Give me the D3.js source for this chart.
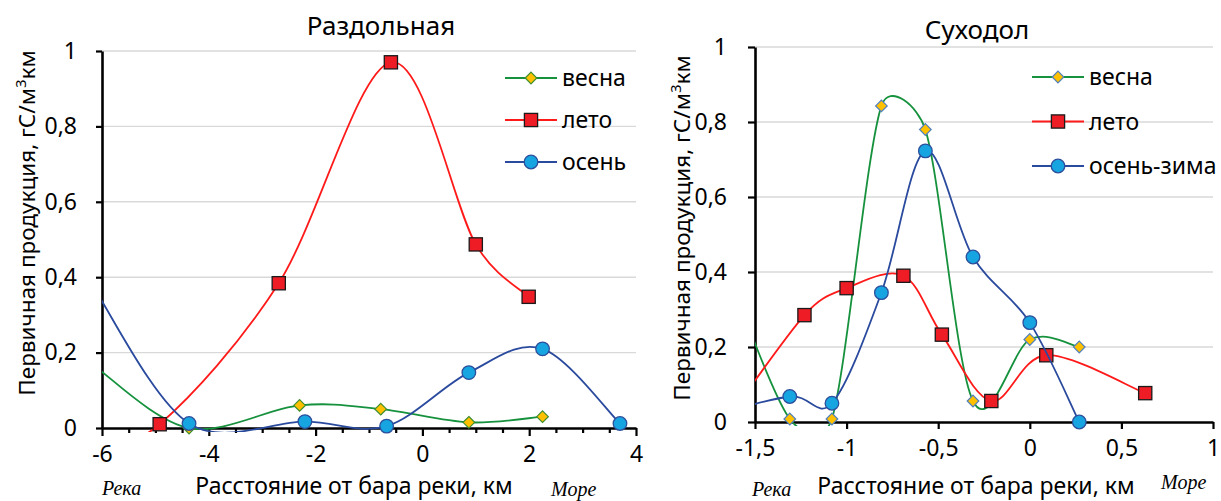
<!DOCTYPE html>
<html>
<head>
<meta charset="utf-8">
<script src="https://cdn.jsdelivr.net/npm/d3@7"></script>
<style>
  body { margin: 0; background: #fff; }
  svg text { font-family: "Noto Sans", sans-serif; fill: #000; }
  .note { font-family: "Liberation Serif", serif; font-style: italic; font-size: 20px; }
</style>
</head>
<body>
<svg id="chart" width="1221" height="501"></svg>
<script>
// ---- data (first point of each curve lies outside the axis, Excel clips it) ----
var yTicks = [0, 0.2, 0.4, 0.6, 0.8, 1];

// Раздольная
var razTicksX = [-6, -4, -2, 0, 2, 4];
var razNames = ["весна", "лето", "осень"];
var razSpringX = [-6.15, -4.37, -2.3, -0.78, 0.87, 2.25];
var razSpringY = [0.165, 0.0, 0.06, 0.05, 0.015, 0.03];
var razSummerX = [-6.3, -4.92, -2.69, -0.59, 1.0, 1.99];
var razSummerY = [-0.06, 0.01, 0.384, 0.97, 0.487, 0.348];
var razAutumnX = [-6.15, -4.37, -2.2, -0.67, 0.87, 2.25, 3.7];
var razAutumnY = [0.37, 0.012, 0.017, 0.005, 0.147, 0.21, 0.012];

// Суходол
var sukTicksX = [-1.5, -1, -0.5, 0, 0.5, 1];
var sukNames = ["весна", "лето", "осень-зима"];
var sukSpringX = [-1.62, -1.31, -1.08, -0.81, -0.57, -0.31, 0, 0.27];
var sukSpringY = [0.36, 0.008, 0.008, 0.843, 0.78, 0.056, 0.22, 0.2];
var sukSummerX = [-1.72, -1.23, -1.0, -0.69, -0.48, -0.21, 0.09, 0.63];
var sukSummerY = [-0.04, 0.285, 0.357, 0.39, 0.233, 0.056, 0.178, 0.077];
var sukAutumnX = [-1.75, -1.31, -1.08, -0.81, -0.57, -0.31, 0, 0.27];
var sukAutumnY = [0.015, 0.068, 0.05, 0.345, 0.723, 0.44, 0.265, 0.0];

var svg = d3.select("#chart");
var fmt = function (d) { return String(d).replace(".", ","); };

function zip(xs, ys) { return xs.map(function (v, i) { return [v, ys[i]]; }); }

// smoothed line like the spreadsheet one: bezier, tangent (P2-P0)/6, shortened next to long neighbours
function smoothPath(pts) {
  var p = d3.path();
  var dist = function (a, b) { return Math.hypot(a[0] - b[0], a[1] - b[1]); };
  p.moveTo(pts[0][0], pts[0][1]);
  for (var i = 0; i < pts.length - 1; i++) {
    var p0 = pts[i - 1] || pts[i], p1 = pts[i], p2 = pts[i + 1], p3 = pts[i + 2] || pts[i + 1];
    var d12 = dist(p1, p2), d02 = dist(p0, p2), d13 = dist(p1, p3);
    var f1 = d02 > 0 ? Math.min(1 / 6, d12 / (2 * d02)) : 0;
    var f2 = d13 > 0 ? Math.min(1 / 6, d12 / (2 * d13)) : 0;
    p.bezierCurveTo(p1[0] + f1 * (p2[0] - p0[0]), p1[1] + f1 * (p2[1] - p0[1]),
                    p2[0] - f2 * (p3[0] - p1[0]), p2[1] - f2 * (p3[1] - p1[1]),
                    p2[0], p2[1]);
  }
  return p.toString();
}

function marker(sel, kind, diamondStroke) {
  if (kind == 0) {
    sel.append("path").attr("d", "M0,-5.8L5.8,0L0,5.8L-5.8,0Z")
      .attr("fill", "#ffc000").attr("stroke", diamondStroke).attr("stroke-width", 1.2);
  } else if (kind == 1) {
    sel.append("rect").attr("x", -6.6).attr("y", -6.6).attr("width", 13.2).attr("height", 13.2)
      .attr("fill", "#ee1c25").attr("stroke", "#1a1a1a").attr("stroke-width", 1.3);
  } else {
    sel.append("circle").attr("r", 6.8)
      .attr("fill", "#17a5e1").attr("stroke", "#2c4f9c").attr("stroke-width", 1.3);
  }
}

var lineColors = ["#16913d", "#ff1a1a", "#2a4a9e"];

function panel(o) {
  var x = d3.scaleLinear().domain(o.xDomain).range(o.xRange);
  var y = d3.scaleLinear().domain([0, 1]).range(o.yRange);
  var g = svg.append("g");

  // gridlines
  g.selectAll(".grid").data(yTicks.filter(function (d) { return d > 0; }))
    .join("line")
    .attr("x1", o.xRange[0]).attr("x2", o.xRange[1])
    .attr("y1", function (d) { return y(d); }).attr("y2", function (d) { return y(d); })
    .attr("stroke", "#d9d9d9").attr("stroke-width", 1.4);

  // y axis
  var ya = g.append("g").attr("transform", "translate(" + o.xRange[0] + ",0)")
    .call(d3.axisLeft(y).tickValues(yTicks).tickFormat(fmt).tickSize(o.yTick).tickPadding(o.yPad).tickSizeOuter(0));
  // x axis (major)
  var xa = g.append("g").attr("transform", "translate(0," + o.yRange[0] + ")")
    .call(d3.axisBottom(x).tickValues(o.ticksX).tickFormat(fmt).tickSize(o.xTick).tickPadding(o.xPad).tickSizeOuter(0));
  if (o.minorX) {
    g.append("g").attr("transform", "translate(0," + o.yRange[0] + ")")
      .call(d3.axisBottom(x).tickValues(o.minorX).tickFormat("").tickSize(5).tickSizeOuter(0))
      .call(function (s) { s.select(".domain").remove(); })
      .selectAll("line").attr("stroke", "#000").attr("stroke-width", 2.2);
  }
  [ya, xa].forEach(function (a) {
    a.select(".domain").attr("stroke", "#000").attr("stroke-width", 2.6);
    a.selectAll(".tick line").attr("stroke", "#000").attr("stroke-width", 2.2);
    a.selectAll("text").attr("font-size", 23).attr("font-family", "Noto Sans").attr("fill", "#000");
  });

  // clip
  var cid = "clip" + o.id;
  svg.append("clipPath").attr("id", cid).append("rect")
    .attr("x", o.xRange[0]).attr("y", o.yRange[1] - 10)
    .attr("width", o.xRange[1] - o.xRange[0]).attr("height", o.yRange[0] - o.yRange[1] + 14);

  o.series.forEach(function (s, i) {
    var pts = zip(s[0], s[1]);
    var scr = pts.map(function (p) { return [x(p[0]), y(p[1])]; });
    g.append("path").attr("d", smoothPath(scr)).attr("fill", "none")
      .attr("stroke", lineColors[i]).attr("stroke-width", 1.8)
      .attr("clip-path", "url(#" + cid + ")");
    var shown = pts.filter(function (p) { return p[0] >= o.xDomain[0] && p[0] <= o.xDomain[1] && p[1] >= 0; });
    g.selectAll(".m" + i).data(shown).join("g")
      .attr("transform", function (p) { return "translate(" + x(p[0]) + "," + y(p[1]) + ")"; })
      .call(function (sel) { marker(sel, i, o.diamondStroke); });
  });

  // legend
  o.names.forEach(function (n, i) {
    var ly = o.legend[1] + i * o.legend[2];
    g.append("line").attr("x1", o.legend[0]).attr("x2", o.legend[0] + 52)
      .attr("y1", ly).attr("y2", ly).attr("stroke", lineColors[i]).attr("stroke-width", 1.8);
    var m = g.append("g").attr("transform", "translate(" + (o.legend[0] + 26) + "," + ly + ")");
    marker(m, i, o.diamondStroke);
    g.append("text").attr("x", o.legend[0] + 57).attr("y", ly + 8)
      .attr("font-size", 23).text(n);
  });

  // titles
  g.append("text").attr("x", o.title[1]).attr("y", o.title[2]).attr("text-anchor", "middle")
    .attr("font-size", 26).text(o.title[0]);
  var yt = g.append("text").attr("transform", "translate(" + o.yTitle[0] + "," + o.yTitle[1] + ") rotate(-90)")
    .attr("text-anchor", "middle").attr("font-size", 22.5).attr("dy", "0.35em");
  yt.append("tspan").text("Первичная продукция, гС/м");
  yt.append("tspan").attr("font-size", 15).attr("dy", "-0.6em").text("3");
  yt.append("tspan").attr("dy", "0.4em").text("км");
  g.append("text").attr("x", o.xTitle[0]).attr("y", o.xTitle[1]).attr("text-anchor", "middle")
    .attr("font-size", 23).text("Расстояние от бара реки, км");
  g.append("text").attr("class", "note").attr("x", o.river[0]).attr("y", o.river[1]).text("Река");
  g.append("text").attr("class", "note").attr("x", o.sea[0]).attr("y", o.sea[1]).text("Море");
}

var razMinor = d3.range(-6, 4.01, 0.5).filter(function (v) { return v % 2 != 0; });

panel({
  id: "raz", xDomain: [-6, 4], xRange: [102, 636], yRange: [428, 51],
  ticksX: razTicksX, minorX: razMinor, xTick: 8, xPad: 10, yTick: 6, yPad: 19,
  series: [[razSpringX, razSpringY], [razSummerX, razSummerY], [razAutumnX, razAutumnY]],
  names: razNames, diamondStroke: "#3d8f2f", legend: [505, 78, 42],
  title: ["Раздольная", 381, 35], yTitle: [27, 223], xTitle: [354, 494],
  river: [102, 495], sea: [551, 496]
});

panel({
  id: "suk", xDomain: [-1.5, 1], xRange: [755, 1213], yRange: [422, 47],
  ticksX: sukTicksX, minorX: null, xTick: 7, xPad: 11, yTick: 7, yPad: 21,
  series: [[sukSpringX, sukSpringY], [sukSummerX, sukSummerY], [sukAutumnX, sukAutumnY]],
  names: sukNames, diamondStroke: "#4f7fc0", legend: [1032, 77, 44.5],
  title: ["Суходол", 977, 39], yTitle: [682, 228], xTitle: [976, 494],
  river: [752, 496], sea: [1161, 489]
});
</script>
</body>
</html>
